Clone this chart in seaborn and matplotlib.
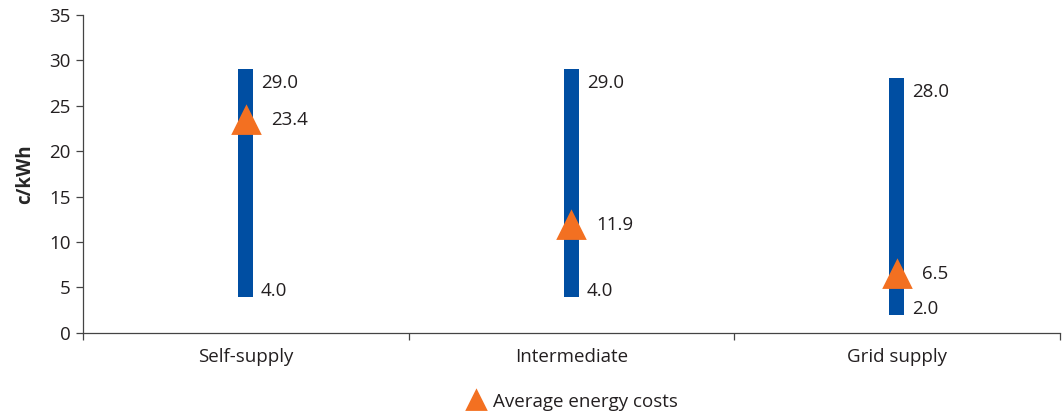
import matplotlib
matplotlib.use("Agg")
import matplotlib.pyplot as plt
import numpy as np
import pandas as pd
import seaborn as sns

categories = ["Self-supply", "Intermediate", "Grid supply"]
low_cost = [4.0, 4.0, 2.0]
high_cost = [29.0, 29.0, 28.0]
avg_cost = [23.4, 11.9, 6.5]

BLUE = "#004EA2"
ORANGE = "#F37021"
TEXT = "#231F20"
FS = 13.5

sns.set_style("white")
plt.rcParams["font.family"] = ["Open Sans", "DejaVu Sans"]
plt.rcParams["text.color"] = TEXT

df = pd.DataFrame({
    "category": categories,
    "low": low_cost,
    "high": high_cost,
    "avg": avg_cost,
})
df["span"] = df["high"] - df["low"]

fig = plt.figure(figsize=(10.64, 4.13), dpi=100)
ax = fig.add_axes([0.078, 0.194, 0.918, 0.770])

sns.barplot(data=df, x="category", y="span", bottom=df["low"].to_numpy(),
            color=BLUE, width=0.046, saturation=1, errorbar=None, ax=ax,
            linewidth=0)
sns.pointplot(data=df, x="category", y="avg", color=ORANGE, marker="^",
              markersize=19, linestyle="none", errorbar=None, ax=ax,
              label="Average energy costs")

for i, row in df.iterrows():
    ax.annotate(f"{row['high']:.1f}", (i, row["high"]), xytext=(11, -3),
                textcoords="offset points", ha="left", va="top", fontsize=FS)
    ax.annotate(f"{row['low']:.1f}", (i, row["low"]), xytext=(11, 0.5),
                textcoords="offset points", ha="left", va="baseline", fontsize=FS)
    ax.annotate(f"{row['avg']:.1f}", (i, row["avg"]), xytext=(18, 0),
                textcoords="offset points", ha="left", va="center", fontsize=FS)

ax.set_xlim(-0.5, 2.5)
ax.set_ylim(0, 35)
ax.set_yticks(np.arange(0, 36, 5))
ax.set_xticks(range(len(categories)), categories)
ax.set_xticks(np.arange(-0.5, 2.6, 1.0), minor=True)
ax.tick_params(axis="x", which="major", bottom=True, length=0, pad=11,
               labelsize=FS, labelcolor=TEXT)
ax.tick_params(axis="x", which="minor", bottom=True, length=5, width=0.9,
               direction="out", color="#444444")
ax.tick_params(axis="y", left=True, length=5, width=0.9, direction="out",
               color="#444444", labelsize=FS, labelcolor=TEXT, pad=4)
ax.set_xlabel("")
ax.set_ylabel("c/kWh", fontsize=FS, fontweight="bold", labelpad=10)

for side in ["top", "right"]:
    ax.spines[side].set_visible(False)
for side in ["left", "bottom"]:
    ax.spines[side].set_color("#444444")
    ax.spines[side].set_linewidth(0.9)

ax.legend(loc="upper center", bbox_to_anchor=(0.5, -0.135), frameon=False,
          fontsize=FS, handletextpad=0.35, handlelength=1.2, markerscale=0.65)

fig.savefig("out.png", dpi=100)
